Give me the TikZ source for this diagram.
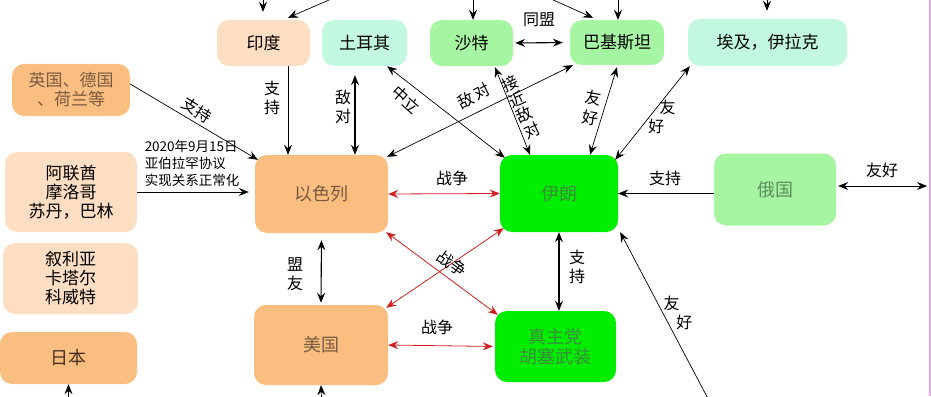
\documentclass[tikz,border=0pt]{standalone}
\usepackage{fontspec}
\setmainfont{Noto Sans CJK SC}
\usetikzlibrary{arrows.meta}
\definecolor{orng}{HTML}{F9BE80}
\definecolor{peach}{HTML}{FDDEC2}
\definecolor{mint}{HTML}{C2F8E0}
\definecolor{lgreen}{HTML}{A6F5A2}
\definecolor{bgreen}{HTML}{00EE00}
\definecolor{warred}{HTML}{D02020}
\definecolor{brn}{HTML}{7A5A42}
\definecolor{dbrn}{HTML}{4A3020}
\definecolor{dgrn}{HTML}{3C8C3C}
\definecolor{ggrn}{HTML}{5E8E5E}
\definecolor{pinkline}{HTML}{E6A8E6}
\tikzset{>={Stealth[length=10pt,width=8pt,inset=3.5pt]}}
\begin{document}
\begin{tikzpicture}[x=1pt,y=-1pt,
 box/.style={rounded corners=12pt, inner sep=0pt, align=center, font=\fontsize{17}{19}\selectfont},
 bigbox/.style={box, font=\fontsize{18}{20}\selectfont},
 lbl/.style={font=\fontsize{16}{19.5}\selectfont, inner sep=0pt, align=center},
 one/.style={->, line width=0.7pt},
 two/.style={<->, line width=0.7pt},
 thick2/.style={<->, line width=1.1pt},
 war/.style={<->, line width=0.8pt, draw=warred},
]
\useasboundingbox (0,0) rectangle (931,396);
\clip (0,0) rectangle (931,396);

% nodes
\node[box, fill=peach, minimum width=93pt, minimum height=46pt] (india) at (263.5,43) {印度};
\node[box, fill=mint, minimum width=85pt, minimum height=46pt] (turkey) at (364.5,43) {土耳其};
\node[box, fill=lgreen, minimum width=83pt, minimum height=46pt] (saudi) at (471.5,43) {沙特};
\node[box, fill=lgreen, minimum width=94pt, minimum height=45pt] (pak) at (617,42.5) {巴基斯坦};
\node[box, fill=mint, minimum width=159pt, minimum height=47pt] (egypt) at (767.5,42.5) {埃及，伊拉克};
\node[box, fill=orng, text=brn, minimum width=118pt, minimum height=52pt] (uk) at (71,90) {英国、德国\\、荷兰等};
\node[box, fill=peach, minimum width=132pt, minimum height=80pt] (uae) at (71,192) {阿联酋\\摩洛哥\\苏丹，巴林};
\node[box, fill=peach, minimum width=135pt, minimum height=71pt] (syria) at (70.5,278.5) {叙利亚\\卡塔尔\\科威特};
\node[bigbox, fill=orng, text=dbrn, minimum width=137pt, minimum height=52pt] (japan) at (68.5,358) {日本};
\node[bigbox, fill=orng, text=brn, minimum width=133pt, minimum height=78pt] (israel) at (321.5,194) {以色列};
\node[bigbox, fill=bgreen, text=dgrn, minimum width=118pt, minimum height=77pt] (iran) at (559,193.5) {伊朗};
\node[bigbox, fill=lgreen, text=ggrn, minimum width=122pt, minimum height=72pt] (russia) at (775,189.5) {俄国};
\node[bigbox, fill=orng, text=brn, minimum width=134pt, minimum height=80pt] (usa) at (321,345) {美国};
\node[bigbox, fill=bgreen, text=dgrn, minimum width=121pt, minimum height=71pt] (hez) at (555.5,346.5) {真主党\\胡塞武装};

% free ends
\coordinate (t1) at (263,-10);
\coordinate (t2) at (352,-10);
\coordinate (t3) at (473,-10);
\coordinate (t4) at (531,-10);
\coordinate (t5) at (618,-10);
\coordinate (t6) at (767,-10);
\coordinate (r1) at (927,186);
\coordinate (b1) at (68.5,410);
\coordinate (b2) at (322,410);
\coordinate (b3) at (714,410);

% arrows from top
\draw[one, shorten >=8pt] (t1) -- (t1 |- india.north);
\draw[one] (t2) -- ([xshift=24.5pt,yshift=2pt]india.north);
\draw[one] (t3) -- (t3 |- saudi.north);
\draw[one] (t4) -- ([xshift=-24pt,yshift=2pt]pak.north);
\draw[one] (t5) -- (t5 |- pak.north);
\draw[one, shorten >=8pt] (t6) -- (t6 |- egypt.north);

% edges to Israel
\draw[one] ([xshift=24.5pt]india.south) -- ([xshift=-33.5pt]israel.north);
\draw[one] ([yshift=6pt]uk.east) -- ([xshift=3pt,yshift=-5pt]israel.north west);
\draw[one, shorten >=6pt] (uae.east) -- (uae.east -| israel.west);
\draw[thick2, shorten <=9pt] ([xshift=-9.5pt]turkey.south) -- ([xshift=33.5pt]israel.north);
\draw[two] ([xshift=-20pt]turkey.south east) -- ([xshift=5pt,yshift=-3pt]iran.north west);
\draw[two] ([xshift=3pt]pak.south west) -- ([xshift=-1pt,yshift=-2pt]israel.north east);
\draw[two] ([xshift=23.5pt,yshift=-1pt]saudi.south) -- ([xshift=-29pt]iran.north);
\draw[two] ([yshift=-2pt]pak.south) -- ([xshift=31pt]iran.north);
\draw[two] ([xshift=2pt]egypt.south west) -- ([xshift=-3pt,yshift=-5pt]iran.north east);
\draw[thick2, shorten <=2pt, shorten >=7pt] (saudi.east) -- (pak.west);

% middle
\draw[war] (israel.east) -- (iran.west);
\draw[one] ([yshift=-4pt]russia.west) -- (iran.east);
\draw[two, shorten <=2pt] ([yshift=3.5pt]russia.east) -- (r1);
\draw[thick2, shorten <=7pt, shorten >=2pt] (israel.south) -- (usa.north);
\draw[thick2] (iran.south) -- (iran.south |- hez.north);
\draw[war] ([xshift=-2pt,yshift=1pt]israel.south east) -- ([xshift=3pt,yshift=-4pt]hez.north west);
\draw[war] ([xshift=4pt,yshift=4pt]iran.south west) -- ([xshift=-2pt,yshift=-3pt]usa.north east);
\draw[war, shorten >=2pt] (usa.east) -- (hez.west);

% from bottom
\draw[one] (b1) -- (japan.south);
\draw[one] (b2) -- (usa.south);
\draw[one] (b3) -- ([xshift=2pt]iran.south east);

% labels
\node[lbl] (l1) at (272,98) {支\\持};
\node[lbl, rotate=-32] (l2) at (197,110) {支持};
\node[lbl, font=\fontsize{13.5}{17}\selectfont, align=left] (l3) at (192,163) {2020年9月15日\\亚伯拉罕协议\\实现关系正常化};
\node[lbl] (l4) at (343,107) {敌\\对};
\node[lbl, rotate=-42] (l5) at (406,100) {中立};
\node[lbl, rotate=27] (l6) at (474,96) {敌\,对};
\node[lbl, rotate=25, font=\fontsize{16}{17}\selectfont] (l7) at (521,107) {接\\近\\敌\\对};
\node[lbl, rotate=-10] (l8) at (592,108) {友\\好};
\node[lbl, align=left] (l9) at (662,117) {\hspace{0.7em}友\\好};
\node[lbl] (l10) at (539,20) {同盟};
\node[lbl] (l11) at (452,178) {战争};
\node[lbl] (l12) at (665,178) {支持};
\node[lbl] (l13) at (882,170) {友好};
\node[lbl, rotate=-35] (l14) at (452,264) {战争};
\node[lbl] (l15) at (295,274) {盟\\友};
\node[lbl] (l16) at (577,267) {支\\持};
\node[lbl] (l17) at (437,327) {战争};
\node[lbl, align=left] (l18) at (678,313) {友\\\hspace{0.8em}好};

% right border
\draw[pinkline, line width=2pt] (930,0) -- (930,396);
\end{tikzpicture}
\end{document}
